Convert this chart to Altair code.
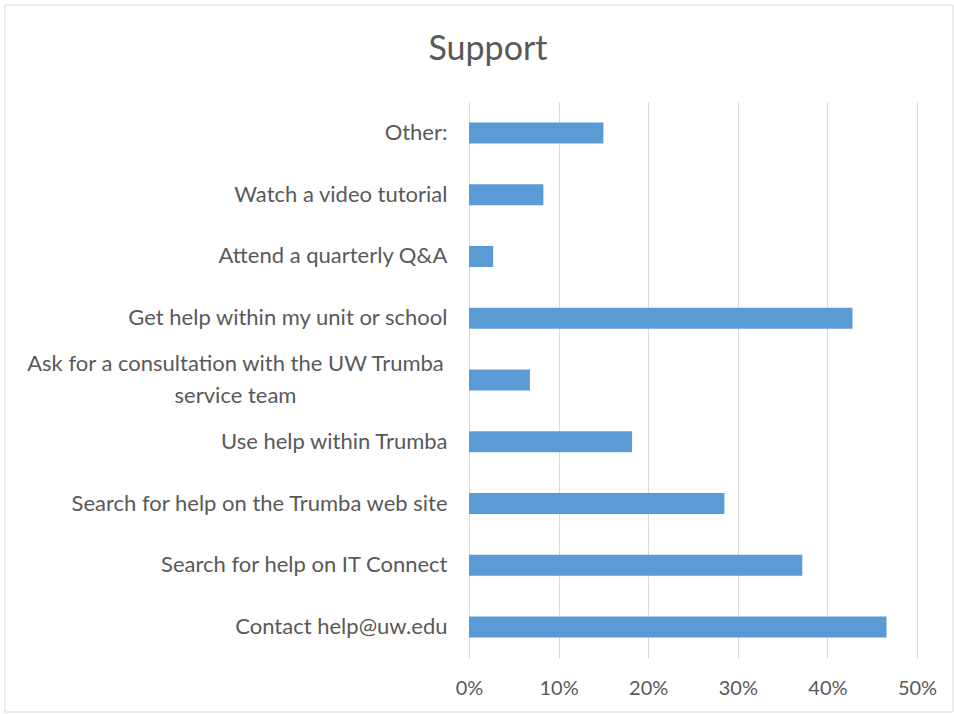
import altair as alt
import pandas as pd

categories = [
    "Other:",
    "Watch a video tutorial",
    "Attend a quarterly Q&A",
    "Get help within my unit or school",
    "Ask for a consultation with the UW Trumba\nservice team",
    "Use help within Trumba",
    "Search for help on the Trumba web site",
    "Search for help on IT Connect",
    "Contact help@uw.edu",
]
values = [0.150, 0.083, 0.027, 0.428, 0.068, 0.182, 0.285, 0.372, 0.466]
ticks = [0, 0.1, 0.2, 0.3, 0.4, 0.5]
title_text = ["Support"]

df = pd.DataFrame({"cat": categories, "val": values})

W, H = 448, 556
FONT = "Lato"
GRAY = "#595959"
MULTI = "indexof(datum.value, 'service team') >= 0"

bars = alt.Chart(df).mark_bar(color="#5b9bd5").encode(
    x=alt.X(
        "val:Q",
        scale=alt.Scale(domain=[0, 0.5], nice=False),
        axis=alt.Axis(
            format=".0%",
            values=ticks,
            title=None,
            grid=True,
            gridColor="#d9d9d9",
            domain=False,
            ticks=False,
            labelFont=FONT,
            labelFontSize=20,
            labelColor=GRAY,
            labelPadding=20,
            labelFlush=False,
        ),
    ),
    y=alt.Y(
        "cat:N",
        sort=categories,
        scale=alt.Scale(paddingInner=0.66, paddingOuter=0.33),
        axis=alt.Axis(
            title=None,
            domain=False,
            ticks=False,
            grid=False,
            labelFont=FONT,
            labelFontSize=22,
            labelColor=GRAY,
            labelPadding={"condition": {"test": MULTI, "value": 234}, "value": 22},
            labelAlign={"condition": {"test": MULTI, "value": "center"}, "value": "right"},
            labelOffset={"condition": {"test": MULTI, "value": -16}, "value": 0},
            labelLimit=0,
            labelExpr="split(datum.label, '\\n')",
            labelLineHeight=32,
        ),
    ),
)

border = alt.Chart(pd.DataFrame({"a": [0]})).mark_rect(
    fill=None, stroke="#d9d9d9", strokeWidth=1
).encode(
    x=alt.value(-464), x2=alt.value(W + 36),
    y=alt.value(-97), y2=alt.value(H + 54),
)

title = alt.Chart(pd.DataFrame({"t": title_text})).mark_text(
    font=FONT, fontSize=34, color=GRAY, align="center", baseline="middle"
).encode(text="t:N", x=alt.value(19), y=alt.value(-52))

chart = alt.layer(border, bars, title).properties(
    width=W,
    height=H,
    autosize=alt.AutoSizeParams(type="none"),
    padding={"left": 469, "top": 102, "right": 37, "bottom": 56},
).configure(background="white").configure_view(stroke=None)

chart.save("out.html", embed_options={"renderer": "svg", "actions": False})
